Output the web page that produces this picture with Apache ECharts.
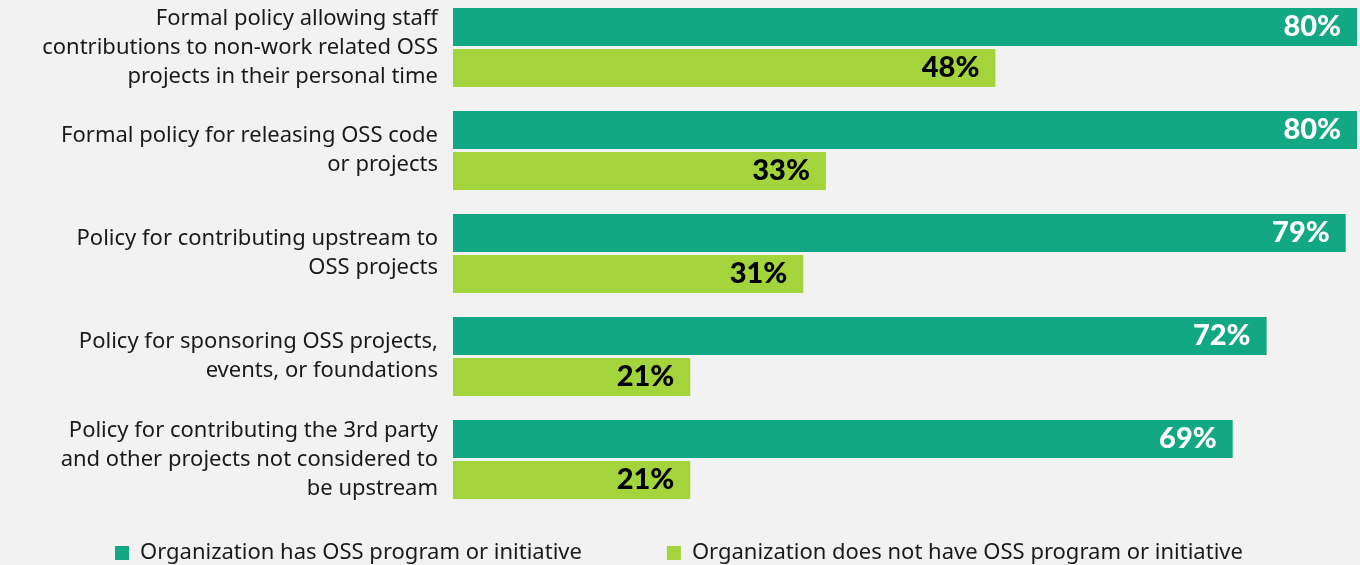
<!DOCTYPE html>
<html>
<head>
<meta charset="utf-8">
<script src="https://cdn.jsdelivr.net/npm/echarts@6/dist/echarts.min.js"></script>
<style>
  html, body { margin: 0; padding: 0; background: #f2f2f2; }
  #chart { width: 1360px; height: 565px; }
</style>
</head>
<body>
<div id="chart"></div>
<script>
// categories, top to bottom
const categories = [
  'Formal policy allowing staff\ncontributions to non-work related OSS\nprojects in their personal time',
  'Formal policy for releasing OSS code\nor projects',
  'Policy for contributing upstream to\nOSS projects',
  'Policy for sponsoring OSS projects,\nevents, or foundations',
  'Policy for contributing the 3rd party\nand other projects not considered to\nbe upstream'
]
const seriesNames = [
  'Organization has OSS program or initiative',
  'Organization does not have OSS program or initiative'
]
const hasProgram = [80, 80, 79, 72, 69]
const noProgram = [48, 33, 31, 21, 21]

const colors = ['#13a884', '#a3d43b']
const labelColors = ['#ffffff', '#000000']

const chart = echarts.init(document.getElementById('chart'))

const makeSeries = (name, data, i) => ({
  name: name,
  type: 'bar',
  data: data,
  barCategoryGap: '23.3%',
  barGap: '8%',
  itemStyle: { color: colors[i] },
  label: {
    show: true,
    position: 'insideRight',
    distance: 16,
    formatter: '{c}%',
    color: labelColors[i],
    fontFamily: 'Lato',
    fontWeight: 900,
    fontSize: 29
  }
})

chart.setOption({
  backgroundColor: '#f2f2f2',
  animation: false,
  grid: {
    left: 453,
    right: 3,
    top: -4,
    height: 515,
    outerBoundsMode: 'none'
  },
  legend: {
    bottom: -4,
    left: 110,
    itemGap: 85,
    itemWidth: 14,
    itemHeight: 14,
    icon: 'rect',
    textStyle: {
      fontFamily: 'Noto Sans',
      fontSize: 22,
      color: '#1a1a1a',
      padding: [0, 0, 0, 6]
    },
    data: seriesNames
  },
  xAxis: {
    type: 'value',
    min: 0,
    max: 80,
    show: false
  },
  yAxis: {
    type: 'category',
    inverse: true,
    data: categories,
    axisLine: { show: false },
    axisTick: { show: false },
    axisLabel: {
      margin: 15,
      fontFamily: 'Noto Sans',
      fontSize: 22,
      lineHeight: 29,
      color: '#1a1a1a',
      align: 'right'
    }
  },
  series: [
    makeSeries(seriesNames[0], hasProgram, 0),
    makeSeries(seriesNames[1], noProgram, 1)
  ]
})
</script>
</body>
</html>
